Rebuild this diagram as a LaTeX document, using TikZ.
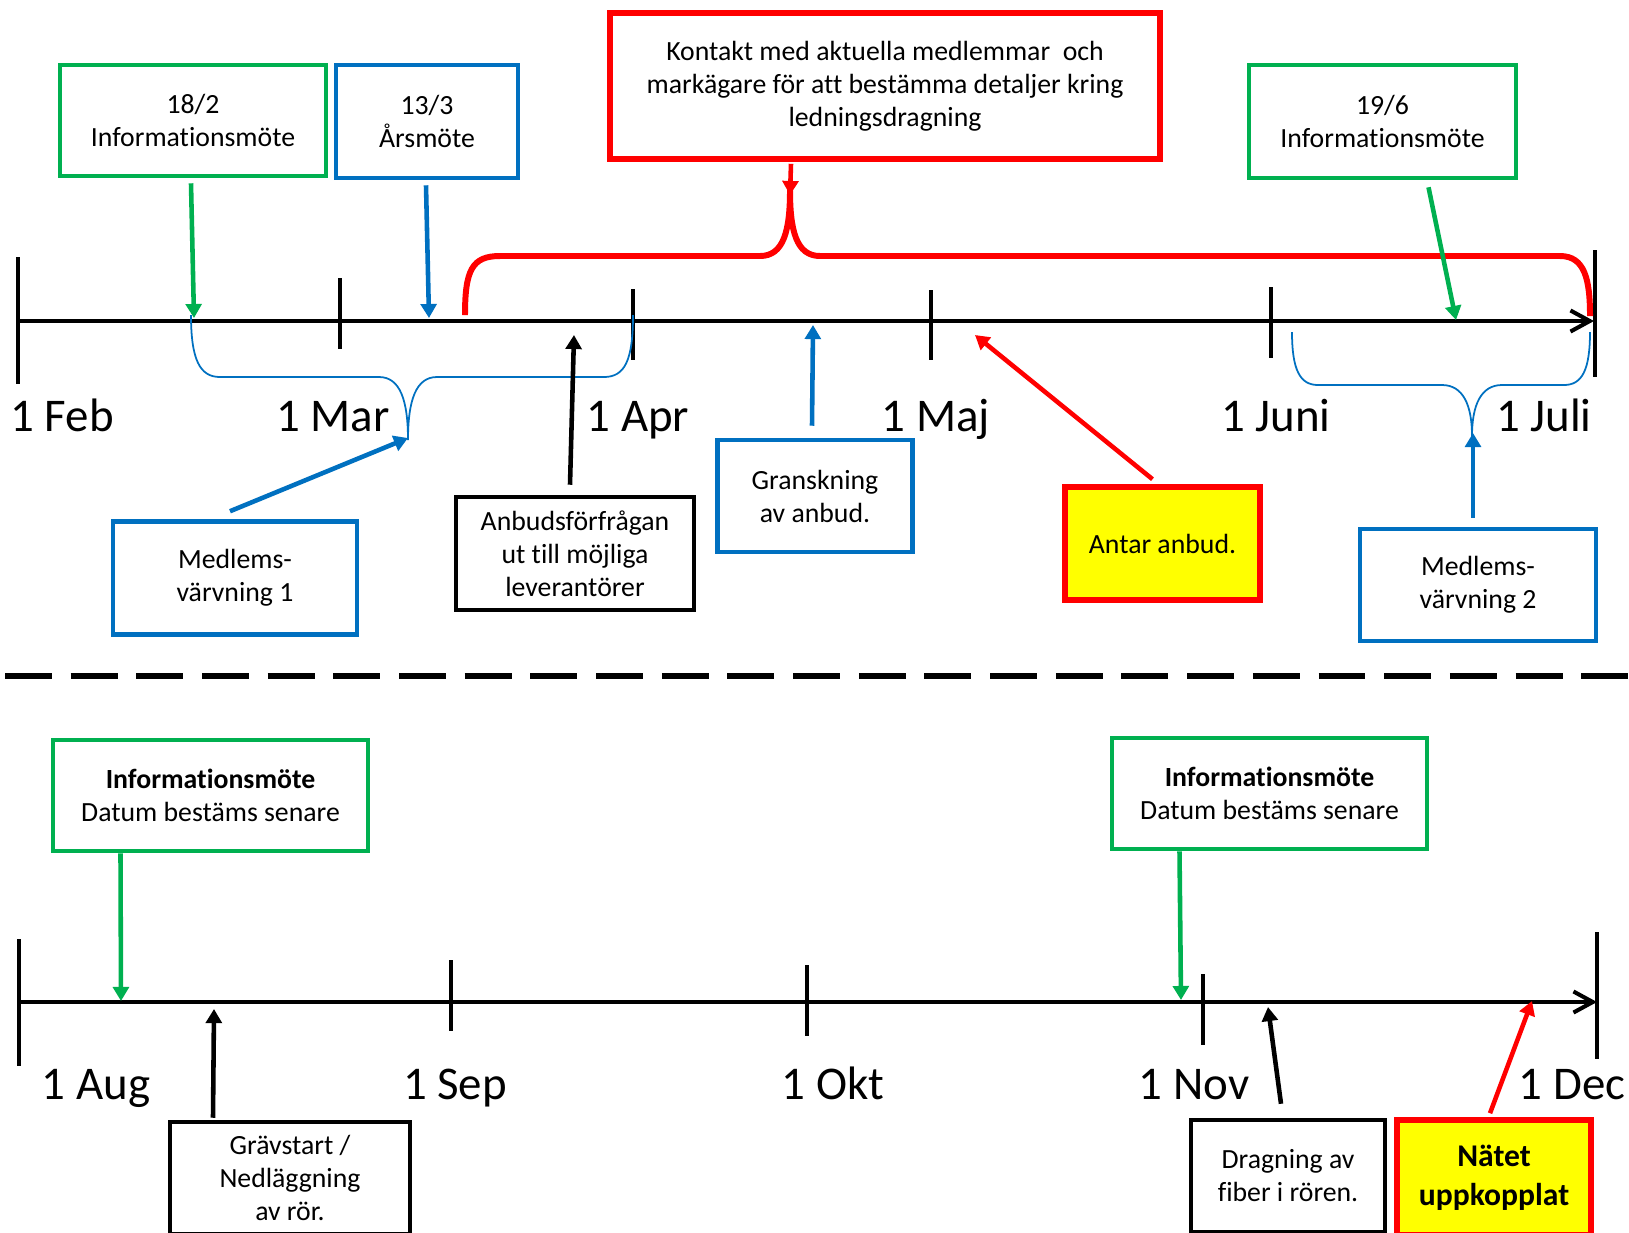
\documentclass[tikz,border=0pt]{standalone}
\usepackage{fontspec}
\setmainfont{Carlito}[Ligatures=NoCommon]
\usetikzlibrary{arrows.meta,calc}
\definecolor{boxgreen}{RGB}{0,176,80}
\definecolor{boxblue}{RGB}{0,112,192}
\definecolor{boxred}{RGB}{255,0,0}
\definecolor{boxyellow}{RGB}{255,255,0}

\begin{document}
\begin{tikzpicture}[x=0.02cm, y=-0.02cm,
	every node/.style={rectangle, align=center, inner sep=0pt, font=\fontsize{15.8}{18.8}\selectfont},
	box/.style={draw, line width=2.6pt},
	greenbox/.style={box, draw=boxgreen},
	bluebox/.style={box, draw=boxblue},
	redbox/.style={box, draw=boxred, line width=3.2pt},
	blackbox/.style={box, draw=black},
	yellowbox/.style={box, draw=boxred, fill=boxyellow, line width=3.2pt},
	lbl/.style={anchor=base, font=\fontsize{26.7}{32}\selectfont},
	axisline/.style={draw=black, line width=2.3pt, -{Straight Barb[length=11pt,width=12pt]}},
	tick/.style={draw=black, line width=2pt},
	arr/.style={line width=2.6pt, -{Triangle[length=8pt,width=9pt]}},
	greenarr/.style={arr, draw=boxgreen, fill=boxgreen},
	bluearr/.style={arr, draw=boxblue, fill=boxblue},
	redarr/.style={arr, draw=boxred, fill=boxred},
	blackarr/.style={arr, draw=black, fill=black},
	brace/.style={draw=boxblue, line width=1pt},
	bigbrace/.style={draw=boxred, line width=3.4pt}]
				\useasboundingbox (0,0) rectangle (1629,1232);
				\clip (0,0) rectangle (1629,1232);
				
				\node[greenbox, minimum width=5.32cm, minimum height=2.22cm] (g1) at (193,120.5){18/2\\Informationsmöte};
				\node[bluebox, minimum width=3.64cm, minimum height=2.26cm] (b1) at (427,121.5){13/3\\Årsmöte};
				\node[redbox, minimum width=11cm, minimum height=2.92cm] (r1) at (885,86){Kontakt med aktuella medlemmar \ och\\markägare för att bestämma detaljer kring\\ledningsdragning};
				\node[greenbox, minimum width=5.34cm, minimum height=2.26cm] (g2) at (1382.5,121.5){19/6\\Informationsmöte};
				
				\node[bluebox, minimum width=4.88cm, minimum height=2.26cm] (m1) at (235,578){Medlems-\\värvning 1};
				\node[blackbox, minimum width=4.76cm, minimum height=2.26cm] (k1) at (575,553.5){Anbudsförfrågan\\ut till möjliga\\leverantörer};
				\node[bluebox, minimum width=3.9cm, minimum height=2.24cm] (b2) at (815,496){Granskning\\av anbud.};
				\node[yellowbox, minimum width=3.9cm, minimum height=2.26cm] (y1) at (1162.5,543.5){Antar anbud.};
				\node[bluebox, minimum width=4.72cm, minimum height=2.24cm] (m2) at (1478,585){Medlems-\\värvning 2};
				
				\node[greenbox, minimum width=6.3cm, minimum height=2.22cm] (g3) at (210.5,795.5){\textbf{Informationsmöte}\\Datum bestäms senare};
				\node[greenbox, minimum width=6.3cm, minimum height=2.22cm] (g4) at (1269.5,793.5){\textbf{Informationsmöte}\\Datum bestäms senare};
				\node[blackbox, minimum width=4.8cm, minimum height=2.24cm] (k2) at (290,1178){Grävstart /\\Nedläggning\\av rör.};
				\node[blackbox, minimum width=3.88cm, minimum height=2.24cm] (k3) at (1288,1176){Dragning av\\fiber i rören.};
				\node[yellowbox, minimum width=3.88cm, minimum height=2.3cm, font=\fontsize{18}{22.2}\selectfont\bfseries] (y2) at (1494,1177.5){Nätet\\uppkopplat};
				
				\node[lbl] (l1) at (62,431){1 Feb};
				\node[lbl] (l2) at (333,431){1 Mar};
				\node[lbl] (l3) at (638,431){1 Apr};
				\node[lbl] (l4) at (936,431){1 Maj};
				\node[lbl] (l5) at (1276,431){1 Juni};
				\node[lbl] (l6) at (1544,431){1 Juli};
				\node[lbl] (l7) at (96,1099){1 Aug};
				\node[lbl] (l8) at (455,1099){1 Sep};
				\node[lbl] (l9) at (833,1099){1 Okt};
				\node[lbl] (l10) at (1194,1099){1 Nov};
				\node[lbl] (l11) at (1572,1099){1 Dec};
				
				\coordinate (s1) at (18,321);
				\coordinate (e1) at (1594,321);
				\coordinate (s2) at (19,1002);
				\coordinate (e2) at (1597,1002);
				
				\coordinate (p1) at (194,318);
				\coordinate (p2) at (429,318);
				\coordinate (p3) at (790,195);
				\coordinate (p4) at (1456,320);
				\coordinate (p5) at (408,438);
				\coordinate (p6) at (574,335);
				\coordinate (p7) at (813,325);
				\coordinate (p8) at (975,335);
				\coordinate (p9) at (1473,433);
				\coordinate (q1) at (121,1001);
				\coordinate (q2) at (214,1009);
				\coordinate (q3) at (1181,1000);
				\coordinate (q4) at (1268,1007);
				\coordinate (q5) at (1532,1001);
				
				\draw[tick] (18,257) -- (18,384);
				\draw[tick] (340,278) -- (340,349);
				\draw[tick] (633,289) -- (633,360);
				\draw[tick] (931,290) -- (931,360);
				\draw[tick] (1271,287) -- (1271,358);
				\draw[tick] (1595,250) -- (1595,377);
				\draw[tick] (19,939) -- (19,1066);
				\draw[tick] (451,960) -- (451,1031);
				\draw[tick] (807,965) -- (807,1036);
				\draw[tick] (1203,974) -- (1203,1045);
				\draw[tick] (1597,932) -- (1597,1059);
				
				\path (s1) edge[axisline] (e1);
				\path (s2) edge[axisline] (e2);
				
				\draw[bigbrace] (465,315) .. controls (465,270) and (472,256) .. (500,256) -- (760,256) .. controls (784,256) and (790,230) .. (790,190) .. controls (790,230) and (796,256) .. (820,256) -- (1560,256) .. controls (1585,256) and (1590,280) .. (1590,316);
				\draw[brace] (191,315) .. controls (191,360) and (200,377) .. (220,377) -- (379,377) .. controls (400,377) and (408,400) .. (408,440) .. controls (408,400) and (416,377) .. (437,377) -- (604,377) .. controls (625,377) and (633,360) .. (633,315);
				\draw[brace] (1292,332) .. controls (1292,370) and (1300,385) .. (1318,385) -- (1442,385) .. controls (1463,385) and (1472,405) .. (1472,436) .. controls (1472,405) and (1481,385) .. (1502,385) -- (1564,385) .. controls (1582,385) and (1590,370) .. (1590,332);
				
				\draw[draw=black, line width=3.4pt, dash pattern=on 26.74pt off 10.64pt] (5,676) -- (1629,676);
				
				\path ($(g1.south)+(-2,5)$) edge[greenarr] (p1);
				\path ($(b1.south)+(-1,5)$) edge[bluearr] (p2);
				\path ($(r1.south)+(-94,2)$) edge[redarr] (p3);
				\path ($(g2.south)+(46,7)$) edge[greenarr] (p4);
				\path ($(m1.north)+(-5,-8)$) edge[bluearr] (p5);
				\path ($(k1.north)+(-5,-10)$) edge[blackarr] (p6);
				\path ($(b2.north)+(-3,-12)$) edge[bluearr] (p7);
				\path ($(y1.north)+(-10,-5)$) edge[redarr] (p8);
				\path ($(m2.north)+(-5,-9)$) edge[bluearr] (p9);
				\path ($(g3.south)+(-90,0)$) edge[greenarr] (q1);
				\path ($(k2.north)+(-77,-2)$) edge[blackarr] (q2);
				\path ($(g4.south)+(-90,0)$) edge[greenarr] (q3);
				\path ($(k3.north)+(-7,-14)$) edge[blackarr] (q4);
				\path ($(y2.north)+(-4,-4)$) edge[redarr] (q5);
				\end{tikzpicture}
\end{document}
